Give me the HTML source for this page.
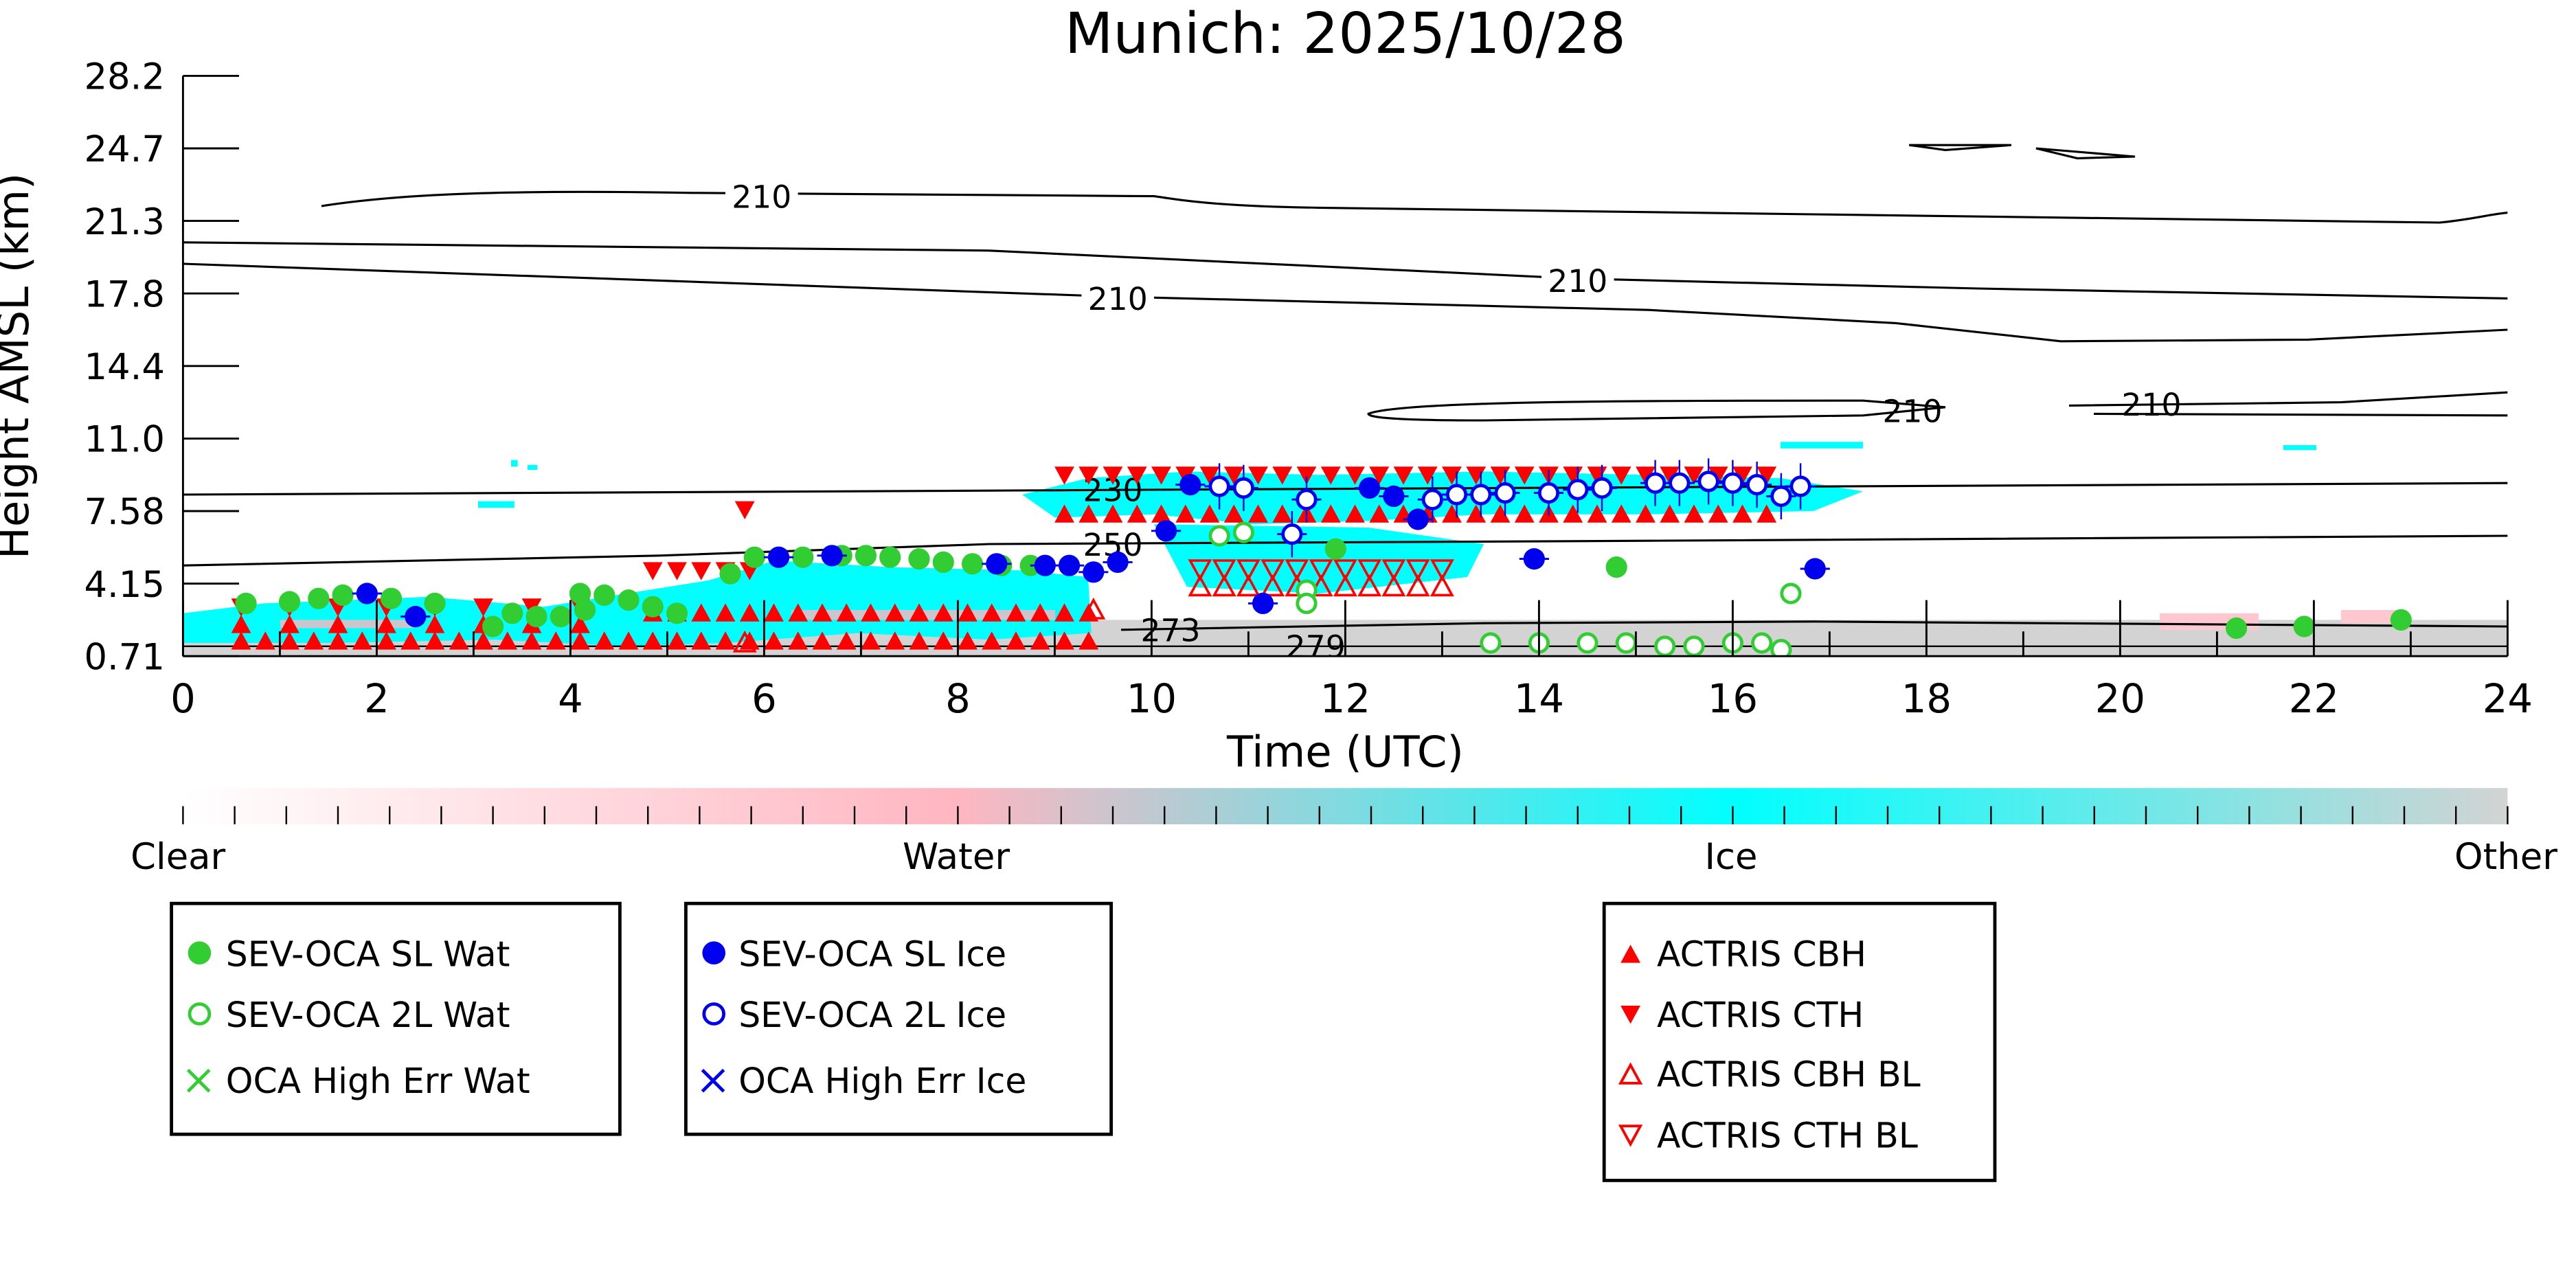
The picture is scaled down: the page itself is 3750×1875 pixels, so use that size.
<!DOCTYPE html>
<html><head><meta charset="utf-8"><style>html,body{margin:0;padding:0;background:#fff}svg{display:block}</style></head>
<body>
<svg id="s" width="3750" height="1875" viewBox="0 0 1562.5 781.25" xmlns="http://www.w3.org/2000/svg" font-family="'DejaVu Sans','Liberation Sans',sans-serif">
<defs>
<linearGradient id="cb" x1="0" x2="1" y1="0" y2="0">
<stop offset="0" stop-color="#ffffff"/><stop offset="0.333" stop-color="#ffb6c1"/><stop offset="0.667" stop-color="#00ffff"/><stop offset="1" stop-color="#d3d3d3"/>
</linearGradient>
<clipPath id="pc"><rect x="111" y="46" width="1410" height="352"/></clipPath>
</defs>
<rect width="1562.5" height="781.25" fill="#fff"/>
<text x="816" y="32" font-size="34" text-anchor="middle">Munich: 2025/10/28</text>
<g clip-path="url(#pc)">
<rect x="111" y="376" width="1410" height="22" fill="#d3d3d3"/>
<rect x="1310" y="372" width="60" height="10" fill="#ffc8d0"/>
<rect x="1420" y="370" width="40" height="8" fill="#ffc8d0"/>
<g fill="#00ffff">
<polygon points="111,372 160,366 260,362 330,368 430,352 470,340 540,344 620,346 660,350 662,384 600,388 520,384 440,390 380,392 300,388 200,390 111,390"/>
<polygon points="620,300 660,290 720,286 800,288 900,286 1000,288 1080,290 1130,298 1100,310 1000,312 900,312 830,316 760,318 700,312 640,314"/>
<polygon points="700,318 830,320 900,330 890,350 800,360 720,356"/>
<rect x="310" y="279" width="4" height="4"/><rect x="290" y="304" width="22" height="4"/><rect x="320" y="282" width="6" height="3"/>
<rect x="1080" y="268" width="50" height="4"/><rect x="1385" y="270" width="20" height="3"/>
</g>
<g fill="#ffb6c1" opacity="0.8"><rect x="480" y="370" width="160" height="6"/><rect x="170" y="376" width="80" height="5"/></g>
<g fill="none" stroke="#000" stroke-width="1.3">
<path d="M195,125 C240,118 300,115 420,117 L700,119 C720,122 740,125 800,126 L1100,130 L1480,135 C1500,133 1510,130 1521,129"/>
<path d="M111,147 L600,152 L957,169 L1200,175 L1521,181"/>
<path d="M111,160 L678,180 L1000,188 L1150,196 L1250,207 L1400,206 L1521,200"/>
<path d="M830,251 C850,243 1000,243 1130,243 L1180,247 L1130,252 L900,255 C860,255 830,254 830,251 Z"/>
<path d="M1255,246 L1420,244 L1521,238"/><path d="M1270,251 L1521,252"/>
<path d="M1158,88 L1220,88 L1180,91 Z"/><path d="M1235,90 L1295,95 L1260,96 Z"/>
<path d="M111,300 L1521,293"/>
<path d="M111,343 L400,337 L600,330 L1000,328 L1521,325"/>
<path d="M680,382 L900,378 L1100,377 L1521,380"/>
<path d="M111,392 L1521,392" stroke-width="1"/>
</g>
<g font-size="19" text-anchor="middle">
<rect x="440" y="108" width="44" height="20" fill="#fff"/><text x="462" y="126">210</text>
<rect x="656" y="170" width="44" height="20" fill="#fff"/><text x="678" y="188">210</text>
<rect x="935" y="159" width="44" height="20" fill="#fff"/><text x="957" y="177">210</text>
<text x="1160" y="256">210</text><text x="1305" y="252">210</text>
<text x="675" y="304">230</text><text x="675" y="337">250</text>
<text x="710" y="389">273</text><text x="798" y="399">279</text>
</g>
<g id="mk"></g>
</g>
<line x1="111" y1="46" x2="111" y2="398" stroke="#000" stroke-width="1.2"/>
<line x1="111" y1="398" x2="1521" y2="398" stroke="#000" stroke-width="1.2"/>
<g stroke="#000" stroke-width="1.2" id="ax"></g>
<g font-size="22" id="lab"></g>
<text x="816" y="465" font-size="26" text-anchor="middle">Time (UTC)</text>
<text transform="translate(17,222) rotate(-90)" font-size="26" text-anchor="middle">Height AMSL (km)</text>
<rect x="111" y="478" width="1410" height="22" fill="url(#cb)"/>
<g stroke="#000" stroke-width="1" id="cbt"></g>
<g font-size="22" text-anchor="middle"><text x="108" y="527">Clear</text><text x="580" y="527">Water</text><text x="1050" y="527">Ice</text><text x="1520" y="527">Other</text></g>
<g fill="none" stroke="#000" stroke-width="2"><rect x="104" y="548" width="272" height="140"/><rect x="416" y="548" width="258" height="140"/><rect x="973" y="548" width="237" height="168"/></g>
<g font-size="21">
<circle cx="121" cy="578" r="7" fill="#32cd32"/><text x="137" y="586">SEV-OCA SL Wat</text>
<circle cx="121" cy="615" r="6" fill="none" stroke="#32cd32" stroke-width="2"/><text x="137" y="623">SEV-OCA 2L Wat</text>
<path d="M114,649 l13,13 M127,649 l-13,13" stroke="#32cd32" stroke-width="2"/><text x="137" y="663">OCA High Err Wat</text>
<circle cx="433" cy="578" r="7" fill="#0000ee"/><text x="448" y="586">SEV-OCA SL Ice</text>
<circle cx="433" cy="615" r="6" fill="none" stroke="#0000ee" stroke-width="2"/><text x="448" y="623">SEV-OCA 2L Ice</text>
<path d="M426,649 l13,13 M439,649 l-13,13" stroke="#0000ee" stroke-width="2"/><text x="448" y="663">OCA High Err Ice</text>
<path d="M983,584 l6,-11 l6,11 z" fill="red"/><text x="1005" y="586">ACTRIS CBH</text>
<path d="M983,610 l6,11 l6,-11 z" fill="red"/><text x="1005" y="623">ACTRIS CTH</text>
<path d="M983,657 l6,-11 l6,11 z" fill="none" stroke="red" stroke-width="1.6"/><text x="1005" y="659">ACTRIS CBH BL</text>
<path d="M983,683 l6,11 l6,-11 z" fill="none" stroke="red" stroke-width="1.6"/><text x="1005" y="696">ACTRIS CTH BL</text>
</g>
</svg>
<script>
var NS="http://www.w3.org/2000/svg";
function el(p,t,a){var e=document.createElementNS(NS,t);for(var k in a)e.setAttribute(k,a[k]);p.appendChild(e);return e;}
var ax=document.getElementById('ax'),lab=document.getElementById('lab'),mk=document.getElementById('mk'),cbt=document.getElementById('cbt');
var yl=["28.2","24.7","21.3","17.8","14.4","11.0","7.58","4.15","0.71"];
for(var i=0;i<9;i++){var y=46+i*44;el(ax,'line',{x1:111,x2:145,y1:y,y2:y});var t=el(lab,'text',{x:100,y:y+8,'text-anchor':'end'});t.textContent=yl[i];}
for(var i=0;i<=12;i++){var x=111+i*117.5;el(ax,'line',{x1:x,x2:x,y1:398,y2:364});var t=el(lab,'text',{x:x,y:432,'text-anchor':'middle','font-size':24});t.textContent=String(i*2);
 if(i<12)el(ax,'line',{x1:x+58.75,x2:x+58.75,y1:398,y2:383});}
for(var i=0;i<=45;i++){var x=111+i*1410/45;el(cbt,'line',{x1:x,x2:x,y1:489,y2:500});}
function tri(x,y,up,fill){var d=up?'M'+(x-6)+','+(y+5)+' l6,-11 l6,11 z':'M'+(x-6)+','+(y-5)+' l6,11 l6,-11 z';
 el(mk,'path',fill?{d:d,fill:'red'}:{d:d,fill:'none',stroke:'red','stroke-width':1.5});}
var X=function(h){return 111+h*58.75;};
for(var h=0.6;h<9.6;h+=0.25){var x=X(h);tri(x,389,true,true);if(h>4.8){tri(x,372,true,true);}
 if(h>4.8&&h<6)tri(x,346,false,true); if(h<4.6&&Math.round(h*4)%2==0){tri(x,368,false,true);tri(x,379,true,true);}}
for(var h=9.1;h<16.6;h+=0.25){var x=X(h);tri(x,288,false,true);tri(x,312,true,true);}
for(var h=10.5;h<13.2;h+=0.25){tri(X(h),345,false,false);tri(X(h),356,true,false);}
tri(X(5.8),309,false,true);tri(X(9.4),370,true,false);tri(X(5.8),390,true,false);
[[0.65,366],[1.1,365],[1.4,363],[1.65,361],[2.15,363],[2.6,366],[3.2,380],[3.4,372],[3.65,374],[3.9,374],[4.15,370],[4.1,360],[4.35,361],[4.6,364],[4.85,368],[5.1,372],[5.65,348],[5.9,338],[6.4,338],[6.8,337],[7.05,337],[7.3,338],[7.6,339],[7.85,341],[8.15,342],[8.45,343],[8.75,343],[11.9,333],[14.8,344],[21.2,381],[21.9,380],[22.9,376]].forEach(function(p){el(mk,'circle',{cx:X(p[0]),cy:p[1],r:6.5,fill:'#32cd32'});});
[[10.7,325],[10.95,323],[11.6,358],[11.6,366],[13.5,390],[14,390],[14.5,390],[14.9,390],[15.3,392],[15.6,392],[16,390],[16.3,390],[16.6,360],[16.5,394]].forEach(function(p){el(mk,'circle',{cx:X(p[0]),cy:p[1],r:5.5,fill:'#fff',stroke:'#32cd32','stroke-width':2});});
[[1.9,360],[2.4,374],[6.15,338],[6.7,337],[8.4,342],[8.9,343],[9.15,343],[9.4,347],[9.65,341],[10.15,322],[10.4,294],[11.15,366],[12.25,296],[12.5,301],[12.75,315],[13.95,339],[16.85,345]].forEach(function(p){var x=X(p[0]);el(mk,'line',{x1:x-9,x2:x+9,y1:p[1],y2:p[1],stroke:'#0000ee','stroke-width':1.2});el(mk,'circle',{cx:x,cy:p[1],r:6.5,fill:'#0000ee'});});
var bo=[[10.7,295],[10.95,296],[11.6,303],[11.45,324],[12.9,303],[13.15,300],[13.4,300],[13.65,299],[14.1,299],[14.4,297],[14.65,296],[15.2,293],[15.45,293],[15.75,292],[16,293],[16.25,294],[16.5,301],[16.7,295]];
bo.forEach(function(p){var x=X(p[0]);el(mk,'line',{x1:x-9,x2:x+9,y1:p[1],y2:p[1],stroke:'#0000ee','stroke-width':1.2});el(mk,'line',{x1:x,x2:x,y1:p[1]-14,y2:p[1]+14,stroke:'#0000ee','stroke-width':1});el(mk,'circle',{cx:x,cy:p[1],r:5.5,fill:'#fff',stroke:'#0000ee','stroke-width':2});});
</script>
</body></html>
